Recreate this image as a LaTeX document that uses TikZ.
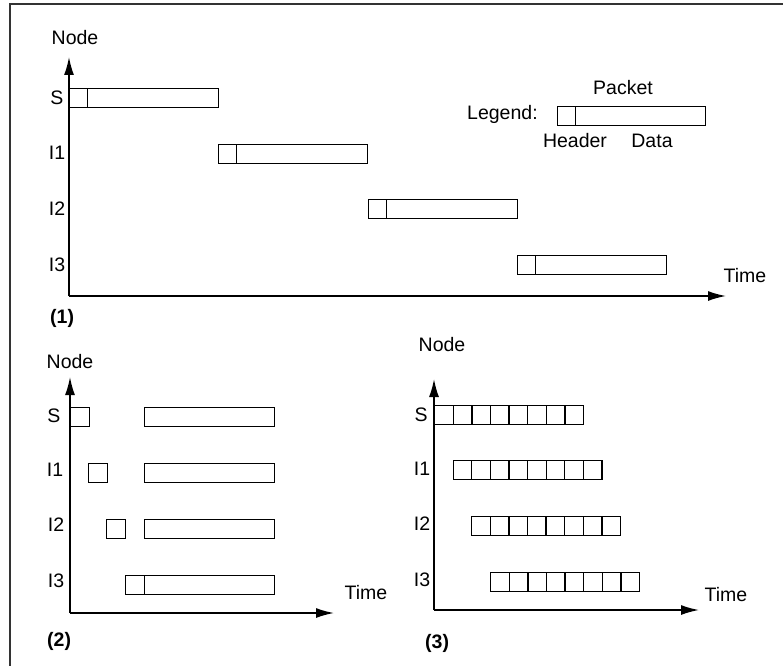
\documentclass[tikz,border=0pt]{standalone}
\usepackage{fontspec}
\setmainfont{Liberation Sans}
\usetikzlibrary{arrows.meta}
\begin{document}
\begin{tikzpicture}[x=1pt,y=-1pt,
  every node/.style={font=\fontsize{19.5}{21}\selectfont, inner sep=0pt},
  cell/.style={draw, line width=1.3pt, minimum height=19pt, anchor=north west, inner sep=0pt},
  axis/.style={line width=1.6pt, -{Latex[length=18pt,width=10pt]}},
  frame/.style={line width=1.3pt, draw=black!80},
  tag/.style={font=\fontsize{19.5}{21}\selectfont\bfseries}]
\useasboundingbox (0,0) rectangle (783,666);

% outer frame (top and left edges only)
\coordinate (fa) at (10,4);
\coordinate (fb) at (783,4);
\coordinate (fc) at (10,666);
\draw[frame] (fb) -- (fa) -- (fc);

% ---------------- (1) store and forward ----------------
\coordinate (o1) at (69,296);
\coordinate (y1) at (69,57);
\coordinate (x1) at (726,296);
\draw[axis] (o1) -- (y1);
\draw[axis] (o1) -- (x1);
\node (n1) at (75,38) {Node};
\node (t1) at (745,276) {Time};
\node[tag, anchor=west] (p1) at (50,318) {(1)};
\node (l1s) at (57,98) {S};
\node (l1a) at (57,153) {I1};
\node (l1b) at (57,209) {I2};
\node (l1c) at (57,265) {I3};

\foreach \r/\x/\y in {0/69/88, 1/218/144, 2/367.5/199, 3/517/255}{
  \node[cell, minimum width=18pt] (h1-\r) at (\x,\y) {};
  \node[cell, minimum width=131pt] (d1-\r) at (\x+18,\y) {};
}

% legend
\node[anchor=west] (lg) at (467,114) {Legend:};
\node[cell, minimum width=18pt] (lgh) at (557,106) {};
\node[cell, minimum width=130pt] (lgd) at (575,106) {};
\node (lgp) at (623,88) {Packet};
\node (lghd) at (575,141) {Header};
\node (lgdt) at (652,141) {Data};

% ---------------- (2) ----------------
\coordinate (o2) at (70,613);
\coordinate (y2) at (70,377);
\coordinate (x2) at (334,613);
\draw[axis] (o2) -- (y2);
\draw[axis] (o2) -- (x2);
\node (n2) at (70,362) {Node};
\node (t2) at (366,593) {Time};
\node[tag, anchor=west] (p2) at (47,641) {(2)};
\node (l2s) at (54,416) {S};
\node (l2a) at (55,470) {I1};
\node (l2b) at (56,525) {I2};
\node (l2c) at (56,581) {I3};

\foreach \r/\x/\y in {0/70/407, 1/88/463, 2/106/519, 3/125/575}{
  \node[cell, minimum width=18.5pt] (h2-\r) at (\x,\y) {};
  \node[cell, minimum width=130pt] (d2-\r) at (143.5,\y) {};
}

% ---------------- (3) ----------------
\coordinate (o3) at (434,610);
\coordinate (y3) at (434,379);
\coordinate (x3) at (699,610);
\draw[axis] (o3) -- (y3);
\draw[axis] (o3) -- (x3);
\node (n3) at (442,345) {Node};
\node (t3) at (726,595) {Time};
\node[tag, anchor=west] (p3) at (425,643) {(3)};
\node (l3s) at (421,415) {S};
\node (l3a) at (422,469) {I1};
\node (l3b) at (422,524) {I2};
\node (l3c) at (422,580) {I3};

\foreach \r/\x/\y in {0/434/405, 1/452.5/460, 2/471/516, 3/490/572}{
  \foreach \k in {0,...,7}{
    \node[cell, minimum width=18.6pt] (c3-\r-\k) at (\x+\k*18.6,\y) {};
  }
}
\end{tikzpicture}
\end{document}
